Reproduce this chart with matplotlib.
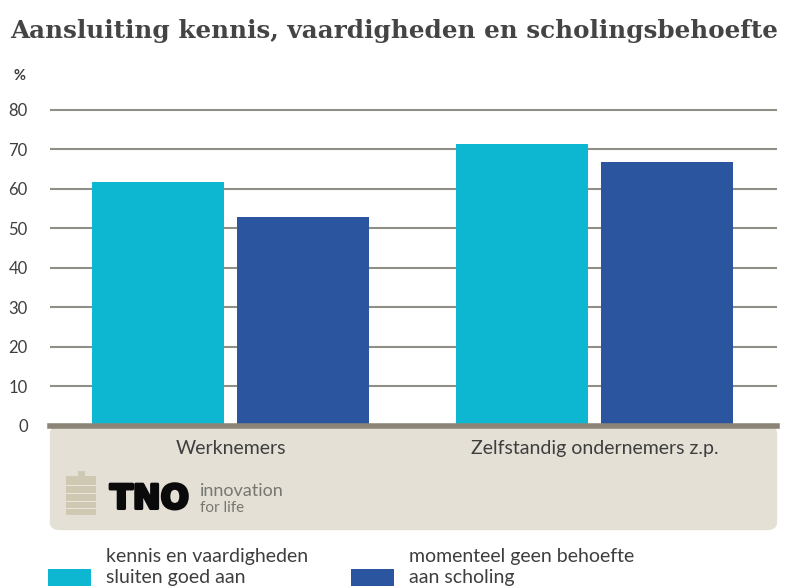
import matplotlib
matplotlib.use("Agg")
import matplotlib.pyplot as plt
import matplotlib.patheffects as pe
from matplotlib.patches import FancyBboxPatch, Rectangle
import numpy as np

W, H = 785, 588
title = "Aansluiting kennis, vaardigheden en scholingsbehoefte"
categories = ["Werknemers", "Zelfstandig ondernemers z.p."]
series_names = ["kennis en vaardigheden\nsluiten goed aan", "momenteel geen behoefte\naan scholing"]
kennis = [61.8, 71.5]
behoefte = [52.9, 66.7]
yticks = [0, 10, 20, 30, 40, 50, 60, 70, 80]
CYAN, BLUE = "#0DB7D2", "#2B569F"
TEXT = "#3E3E3E"
PANEL, AXISC = "#E4E0D6", "#8C8577"

plt.rcParams["font.family"] = ["Lato", "DejaVu Sans"]
fig = plt.figure(figsize=(W / 100, H / 100), dpi=100)

def fx(x): return x / W
def fy(y): return 1 - y / H

L, R, T, B = 50, 777, 106, 426
ax = fig.add_axes([fx(L), fy(B), (R - L) / W, (B - T) / H])
ax.set_xlim(-0.496, 1.501)
ax.set_ylim(0, 81)
x = np.arange(len(categories))
ax.set_axisbelow(True)
ax.yaxis.grid(True, color="#8F8F88", lw=1.5)
ax.bar(x - 0.2, kennis, 0.362, color=CYAN, zorder=3)
ax.bar(x + 0.198, behoefte, 0.362, color=BLUE, zorder=3)
for s in ("top", "left", "right"):
    ax.spines[s].set_visible(False)
ax.spines["bottom"].set_color(AXISC)
ax.spines["bottom"].set_linewidth(4)
ax.spines["bottom"].set_zorder(5)
ax.set_yticks(yticks)
ax.tick_params(axis="y", length=0, pad=16, labelsize=12, labelcolor=TEXT)
ax.set_xticks(x, categories)
ax.tick_params(axis="x", length=0, pad=10, labelsize=14, labelcolor=TEXT)

# beige panel beneath the axis
fig.add_artist(FancyBboxPatch((fx(54), fy(526)), (719) / W, (96) / H,
    boxstyle="round,pad=0,rounding_size=0.008", transform=fig.transFigure,
    fc=PANEL, ec=PANEL, lw=6, zorder=-1, mutation_aspect=H / W))

fig.text(fx(10), fy(31), title, fontsize=17.75, fontweight="bold", family="DejaVu Serif",
         color="#444444", va="center", ha="left")
fig.text(fx(13), fy(76), "%", fontsize=10.5, fontweight="bold", color=TEXT, va="center")

# clipboard icon
icon = "#CFC8B2"
fig.add_artist(Rectangle((fx(66), fy(515)), 30 / W, 39 / H, transform=fig.transFigure, fc=icon, ec="none"))
fig.add_artist(Rectangle((fx(78), fy(476)), 7 / W, 5 / H, transform=fig.transFigure, fc=icon, ec="none"))
for yy in (486, 494, 502, 509):
    fig.add_artist(Rectangle((fx(66), fy(yy)), 30 / W, 1.5 / H, transform=fig.transFigure, fc="#E9E5DB", ec="none"))

# TNO logo
logo = fig.text(fx(110), fy(499), "TNO", fontsize=24, fontweight="bold", family="DejaVu Sans",
                color="#0A0A0A", va="center", ha="left")
logo.set_path_effects([pe.withStroke(linewidth=2.2, foreground="#0A0A0A")])
fig.text(fx(200), fy(491), "innovation", fontsize=13, color="#777770", va="center", ha="left")
fig.text(fx(200), fy(508), "for life", fontsize=11, color="#777770", va="center", ha="left")

# legend
for sx, tx, c, label in ((48, 106, CYAN, series_names[0]), (351, 409, BLUE, series_names[1])):
    fig.add_artist(Rectangle((fx(sx), fy(586)), 43 / W, 17 / H, transform=fig.transFigure, fc=c, ec="none"))
    fig.text(fx(tx), fy(567), label, fontsize=14, color=TEXT, va="center", ha="left", linespacing=1.35)

fig.savefig("out.png", dpi=100)
